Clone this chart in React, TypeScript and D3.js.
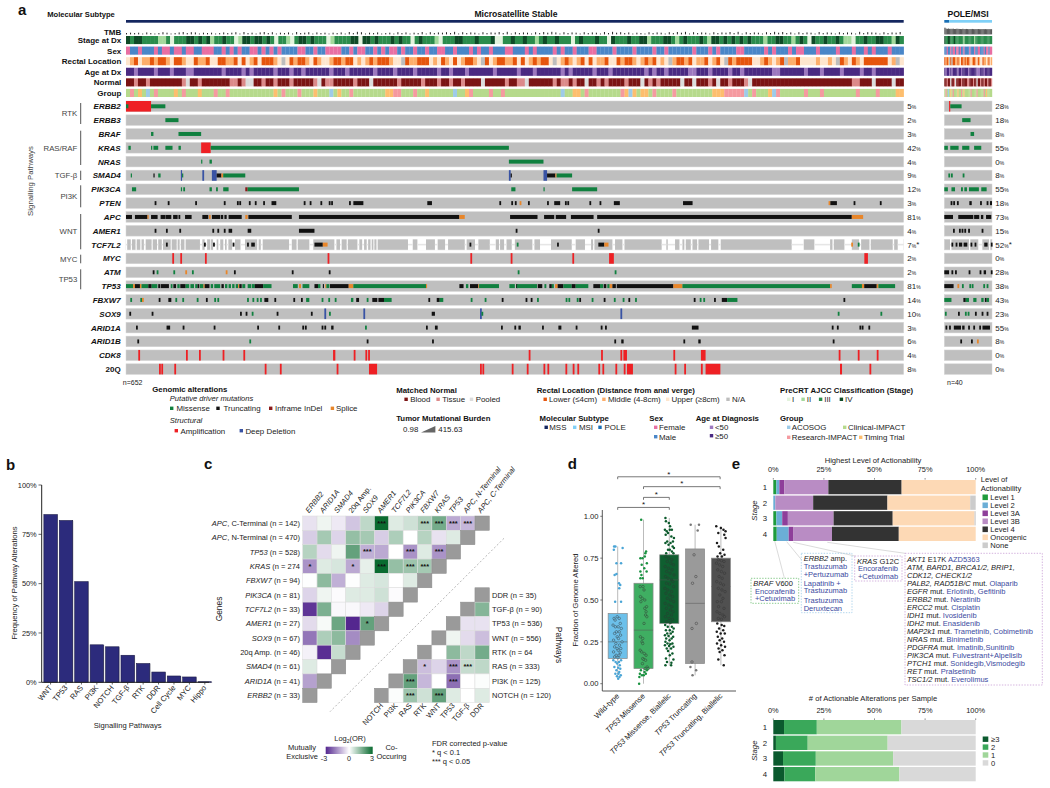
// App.tsx - multi panel genomic landscape figure
import React from 'react';
import * as d3 from 'd3';

type Alt = [string, number, number?];

const FONT = '"Liberation Sans", Arial, sans-serif';

// ---- panel a: samples and tracks ----
const mssCount = 652;
const poleCount = 40;

const stageMSS =
  '4344333322313334434342334331244344343133213443433312333344144343' +
  '33434331343332133344333433341133433433234334333134333433143334334' +
  '42333443234333432443434343433323344332343143343343221334334433243';
const sexMSS =
  'FMMFMMMFMFFMFFMFFMMFFFMMFMFMFMMFFMFMFMFMMMMFFMMFMMFFFFMMFMFFMMFMF' +
  'MFFMFMMFMMFMMFFMMFMMMFMFMMFMMMFFMMMFMFMMMMFMFMMFMMMFFMMMMFMMMMFMM' +
  'MMFMMFMMMMMMFMMMFMFMMMMFFMMMMMFMFMMMFMFFMMMFMMMMFMMMFMMFMFMMMFMMM';
const rectalMSS =
  'UMLUMMLMLLMULLMUULMMLUULLMMLULUMLULLLMUNULMLLMULMUUMLLMLLUMUMLMLL' +
  'LMUUNLMMLLLUMULMULUMLLMUNLUMLLMMLULUMLMLLUNUMLMUMLULUMMLUULMLLMUM' +
  'LMLUMUNMLLMLUMMLUMLUNLMLLLLUUMLMUMLNMMLUUUUMUUMUNLMULMULLLLLLUMNU';
const ageMSS =
  'OOYOOOOYOOOYOOOYYOOOOOOOYOOOOYOYOOOOOYOOOYOOYOOOOOOYOOOYOOOOOOYOO' +
  'OOYOOOOYOOOOOYOOYOOOYOOOOOOYOOOOOYOOOYOOOOOOYOYOOOOOYOOOYOOOOOOOO' +
  'YOYOOYOOOOOYYOOOYOOOOYOOYOOOOOOOYYOOOOOOYOOOYOOOOYOOOOYOOYOOOOOOO';
const normalMSS =
  'BBTBBTBBBBBBBBTPBBTBBBBBBBTTBTPPBBTBBTBBBTBBBBBTPBTTBBBBBTBBBPBBB' +
  'BBBTBBBBBTBBBTBBTBBTBBBBPBBBBBTBBTTPBBBBBBTBTTBTBBPBBTBTBBBBTBBBP' +
  'BTBTBBBBBPBBPBBBTBPBBTBBBTPBBBBBBBBBBBBBBBBBBBBBBBBBTTBBBPBBBBPBB';
const groupMSS =
  'CRCICACRCCCCICRCCCICCCRCCRCCCCCCCCCCCICRCCCRCCCICCCACICCRCCCCCCCC' +
  'IIRRCCCRCCICCCCCCACCIRCCCCRCCRCCCCCCCCCCCCCCACCIICRCCCCCCCCRIAICI' +
  'ICRCCCCRCCCCCCCCCIIIRRRRRACRCCCIARCCCCCCRCCCRCCCCCCCCRCCCCRCCCCII';
const tmbMSS = (
  '3434253236423573652434235346273425736243527346253424352738624352' +
  '3426352437263546382635426354738263542637485263542635427384635243' +
  '2635426374826354263547382635426384735263542735426354283654263547'
).split('').map(Number);

const stagePOLE = '4334433343333333233333333233333333333333';
const sexPOLE = 'MMFMMFMFFMFFMFMMFMMMMFMMMFMMFFMMMFMFFMFF';
const rectalPOLE = 'LMLMNLNLLMMLMULLMLMLLMUMLLMULMUULMMUMLUM';
const agePOLE = 'OYOOYOYOOOOYOOYOOOOOYOOOOOOYYYOOOYOOOOOO';
const normalPOLE = 'BBTBBPBBTPBBBBTBBBBTTBBBTBBPBBTBBTBBTBBT';
const groupPOLE = 'CRCACICRCCCICCRCICCCCCRCCCCRCCCCCRCICCCC';
const tmbPOLE = [240, 110, 90, 120, 85, 95, 90, 105, 80, 85, 100, 90, 85, 80, 75, 95, 80, 75, 85, 78, 70, 80, 75, 85, 75, 70, 78, 75, 80, 72, 70, 75, 78, 70, 75, 68, 70, 72, 68, 70];

const stageColors: Record<string, string> = { '1': '#e3f3dd', '2': '#a4d99c', '3': '#2b8c4c', '4': '#0e4a27' };
const sexColors: Record<string, string> = { F: '#e86fa3', M: '#4a86c8' };
const rectalColors: Record<string, string> = { L: '#e6550d', M: '#fdae6b', U: '#fee6ce', N: '#bdbdbd' };
const ageColors: Record<string, string> = { Y: '#9c78bf', O: '#4a2a82' };
const normalColors: Record<string, string> = { B: '#7b1414', T: '#dc8a8a', P: '#dcdcdc' };
const groupColors: Record<string, string> = { C: '#b6da8c', A: '#9ecbe8', R: '#f59aa0', I: '#fdbe6e' };

const annotationRows = ['Stage at Dx', 'Sex', 'Rectal Location', 'Age at Dx', 'Normal', 'Group'];
const annotationMSS = [stageMSS, sexMSS, rectalMSS, ageMSS, normalMSS, groupMSS];
const annotationPOLE = [stagePOLE, sexPOLE, rectalPOLE, agePOLE, normalPOLE, groupPOLE];
const annotationColors = [stageColors, sexColors, rectalColors, ageColors, normalColors, groupColors];

const genes = ['ERBB2', 'ERBB3', 'BRAF', 'KRAS', 'NRAS', 'SMAD4', 'PIK3CA', 'PTEN', 'APC', 'AMER1', 'TCF7L2', 'MYC', 'ATM', 'TP53', 'FBXW7', 'SOX9', 'ARID1A', 'ARID1B', 'CDK8', '20Q'];
const pctMSS = ['5', '2', '3', '42', '4', '9', '12', '3', '81', '4', '7', '2', '2', '81', '14', '10', '3', '6', '4', '8'];
const pctPOLE = ['28', '18', '8', '55', '0', '8', '55', '18', '73', '15', '52', '0', '28', '38', '43', '23', '55', '8', '0', '0'];

// alteration runs in sample order: kind, first sample, last sample
const altMSS: Alt[][] = [
  [['A', 0, 21], ['M', 0, 2], ['M', 21, 33]],
  [['M', 33, 44]],
  [['M', 21, 23], ['M', 44, 63]],
  [['M', 2, 4], ['M', 21, 22], ['M', 23, 27], ['M', 33, 39], ['M', 44, 46], ['A', 63, 71], ['M', 71, 321]],
  [['M', 63, 64], ['M', 70, 72], ['M', 321, 350]],
  [['M', 4, 5], ['T', 23, 24], ['M', 27, 29], ['D', 46, 47], ['M', 47, 48], ['D', 64, 65.5], ['D', 72, 76], ['T', 76, 80], ['S', 80, 81.5], ['M', 81.5, 100], ['D', 321, 322.5], ['T', 322.5, 323.5], ['D', 350, 353], ['T', 353, 360], ['S', 360, 361], ['M', 361, 374]],
  [['M', 5, 8.5], ['M', 46, 47], ['M', 48, 49.5], ['M', 70, 72], ['M', 75.5, 77], ['M', 81.5, 86], ['I', 100, 102], ['M', 102, 145], ['M', 323, 326.5], ['M', 350, 351], ['M', 374, 395]],
  [['T', 24], ['T', 35], ['T', 58], ['T', 82], ['T', 93], ['T', 95], ['T', 103], ['T', 108], ['T', 115], ['T', 122, 126], ['T', 149], ['T', 154], ['T', 163], ['T', 170], ['T', 172], ['T', 187], ['T', 190.6, 199], ['T', 252.6, 256.5], ['T', 313], ['T', 323], ['T', 326], ['S', 330], ['T', 337], ['T', 353], ['T', 359, 364], ['T', 368], ['T', 370], ['T', 388.5], ['T', 397], ['T', 409, 414], ['T', 467, 475], ['S', 589], ['T', 590.5, 596], ['T', 610], ['T', 632]],
  [['T', 0, 5], ['T', 7.5, 18], ['S', 18, 19], ['T', 21, 26.5], ['T', 29, 32.7], ['T', 33, 38], ['T', 39.5, 43.3], ['T', 44, 45.5], ['T', 49.5, 55], ['T', 64, 69], ['S', 69.6, 71], ['T', 72, 79], ['T', 79.5, 81.5], ['T', 82.5, 84.4], ['T', 86, 97], ['S', 100, 102], ['T', 102.6, 139], ['T', 145, 279.5], ['S', 279.5, 284], ['T', 322, 345], ['T', 350.5, 359], ['T', 360.3, 369], ['T', 373, 392], ['T', 395, 608.5], ['S', 608.5, 618]],
  [['T', 24], ['T', 33.5], ['T', 44.7], ['T', 72.4], ['T', 76.6], ['T', 82], ['T', 86, 89], ['T', 102, 105], ['T', 145, 158], ['T', 326.7], ['T', 395.5]],
  [['T', 33.5], ['T', 65.4], ['T', 73], ['T', 89.4], ['T', 101.5], ['T', 105, 108], ['T', 158, 165], ['S', 165, 169], ['T', 288], ['M', 327.6], ['T', 361.4], ['T', 396, 401], ['S', 401, 404.5], ['S', 608], ['M', 613.5]],
  [['A', 38.8], ['A', 45.5], ['A', 66.2], ['A', 169], ['A', 288.7], ['A', 322.5], ['A', 374.2], ['A', 405, 409], ['A', 619, 622]],
  [['T', 22.4], ['M', 25.7], ['M', 39.7], ['S', 49.7], ['M', 55.3], ['S', 83.6], ['T', 90.5], ['T', 139], ['T', 170], ['M', 328.4], ['M', 409.7]],
  [['M', 0, 6], ['S', 6, 7.5], ['T', 7.5, 11.7], ['S', 11.7, 13], ['M', 13, 18.7], ['T', 18.7, 21.5], ['M', 21.5, 26.3], ['T', 27, 28.5], ['T', 29, 36], ['M', 37.5, 39], ['T', 39.7, 42], ['M', 43, 45], ['T', 45.5, 50], ['M', 50, 53], ['M', 54, 57], ['M', 58, 60], ['T', 60, 61.5], ['M', 62, 65], ['S', 65, 66], ['T', 66, 70], ['M', 71, 73], ['M', 74, 79], ['T', 80, 82], ['M', 83, 85], ['M', 86, 88], ['M', 89, 91], ['M', 92, 94], ['S', 94, 95], ['T', 95, 97], ['M', 97.5, 100], ['M', 102, 105], ['M', 105.5, 108], ['T', 108, 115], ['M', 115, 122], ['M', 140, 144], ['S', 145, 146.7], ['M', 148, 153.7], ['T', 158, 161], ['M', 161, 163], ['T', 165, 166], ['S', 167, 168], ['M', 168, 170.5], ['T', 171, 186.7], ['S', 186.7, 190.6], ['M', 190.6, 251.5], ['S', 251.5, 252.4], ['T', 279.5, 283], ['M', 285, 287], ['T', 288.4, 295.4], ['S', 295.4, 296], ['M', 296, 312.7], ['M', 321.4, 326], ['T', 327], ['M', 327.6, 344.6], ['T', 345.2, 349], ['M', 350.8, 352.4], ['T', 354.9, 357], ['M', 357, 358.7], ['S', 359.7, 361.9], ['T', 361.9, 366.7], ['M', 366.7, 373.7], ['T', 373.7, 377], ['M', 377, 387.6], ['T', 391.8, 397.4], ['M', 397.4, 400], ['T', 400.5, 402.7], ['M', 403.5, 405.5], ['S', 405.5, 407.8], ['T', 407.8, 410.7], ['T', 411.4, 458.9], ['S', 458.9, 466.5], ['M', 466.5, 590.3], ['S', 590.3, 591.7], ['M', 608.5, 617], ['S', 617, 618.9], ['T', 618.9, 629.4], ['S', 629.4, 630.8], ['M', 630.8, 644.8]],
  [['M', 3.6], ['M', 12], ['S', 13.4], ['T', 27.4], ['T', 35.5, 38], ['M', 41.4], ['M', 47.2], ['M', 59.3], ['T', 67], ['M', 74], ['M', 76.6], ['M', 101.5], ['M', 106], ['M', 109.6], ['M', 112.4], ['T', 116, 119.3], ['T', 124.4], ['T', 140.3], ['T', 146.7], ['M', 151, 153.7], ['M', 164], ['M', 169.6], ['M', 175], ['M', 188.6, 190.6], ['T', 193, 195.4], ['M', 201.8], ['T', 206.5, 210.7], ['T', 211.6, 216.3], ['M', 216.3, 222.7], ['T', 253.5], ['T', 260.5, 263], ['M', 263, 266], ['M', 289], ['M', 300.7], ['T', 315], ['T', 335], ['T', 339.3], ['M', 344.6], ['M', 368.6], ['M', 370.9], ['M', 377.9], ['T', 380], ['M', 390.4], ['T', 400.5], ['M', 409], ['M', 416.4], ['T', 421.2], ['M', 426.8], ['T', 476], ['M', 481], ['M', 484], ['T', 493], ['T', 499.5, 504], ['M', 504, 512.6], ['T', 601.5]],
  [['T', 2.8], ['T', 21.5], ['T', 95.6], ['T', 100.3], ['M', 105.4], ['T', 126.3], ['T', 155], ['D', 166.3], ['M', 170.2], ['D', 199], ['T', 256.3, 259], ['D', 296.8], ['M', 298], ['D', 414.5], ['M', 596.7], ['M', 632.5]],
  [['T', 8.4], ['T', 34, 37], ['T', 47.5], ['T', 73.5], ['T', 110], ['T', 127.7], ['T', 147.8], ['T', 150], ['T', 164], ['T', 166.3], ['T', 172, 174], ['M', 200.4], ['T', 251.5], ['T', 259, 261.3], ['T', 314.4], ['T', 325.6], ['T', 329, 331], ['T', 348.8], ['T', 362.5, 365], ['T', 377], ['T', 398], ['T', 401.6], ['T', 474.4, 480], ['T', 591.7], ['T', 596], ['T', 614.9], ['T', 616.8], ['T', 622.4]],
  [['T', 9.5], ['M', 103.4], ['T', 201.8], ['T', 256.6], ['T', 409.4], ['T', 415.2, 417.2], ['T', 467.3], ['T', 479.8, 481.8], ['T', 592.5]],
  [['A', 10.3], ['A', 50.3], ['A', 61.2], ['A', 81], ['A', 98.4], ['A', 173.6, 175.5], ['A', 190.9], ['A', 200.7], ['A', 203], ['A', 337.6], ['A', 398.3], ['A', 414.5], ['A', 417, 420], ['A', 458.9], ['A', 482, 485.9], ['A', 597.5], ['A', 613.5], ['A', 629.4]],
  [['A', 27.7], ['A', 29.6], ['A', 40.5], ['A', 116.3], ['A', 129], ['A', 176.6], ['A', 203.7, 210.5], ['A', 296.8], ['A', 298.8], ['A', 323.4], ['A', 336], ['A', 350], ['A', 353.3], ['A', 368.4], ['A', 374.5], ['A', 378.4], ['A', 396], ['A', 399.4], ['A', 410.3], ['A', 417.3], ['A', 420, 425], ['A', 460], ['A', 468], ['A', 482], ['A', 485.9, 498.3], ['A', 598.6, 600.3], ['A', 623.3]],
];
const altPOLE: Alt[][] = [
  [['A', 4, 5], ['M', 5, 14.5]],
  [['M', 15, 22]],
  [['M', 22, 25]],
  [['M', 0, 3], ['M', 5, 12], ['M', 15, 21], ['M', 25, 31]],
  [],
  [['M', 3.4], ['M', 5.6], ['M', 15.4]],
  [['M', 0, 3], ['M', 6, 9], ['M', 14, 15.6], ['M', 16.8, 19], ['M', 20.7, 29], ['M', 31, 35.5]],
  [['T', 5.3], ['T', 7.5], ['T', 10.6], ['T', 21, 23], ['T', 30], ['T', 35.5], ['T', 38.3, 40]],
  [['T', 0, 7.3], ['T', 11.7, 24.3], ['T', 25, 29.3], ['T', 30.7, 32.7], ['T', 35, 39.4]],
  [['T', 7.3], ['T', 12.3], ['T', 14.5], ['T', 16.8], ['T', 20], ['T', 31.3]],
  [['T', 6, 7.5], ['T', 9.5, 11], ['T', 12.3, 15], ['T', 16.2, 19.3], ['T', 22, 23.5], ['T', 25.4], ['T', 33.5, 36.3], ['T', 39]],
  [],
  [['T', 0, 4], ['T', 6, 7.5], ['T', 9], ['T', 20.4], ['T', 29.6], ['T', 33, 35], ['T', 39]],
  [['T', 0, 7.8], ['S', 11], ['M', 14.8], ['M', 21], ['M', 23], ['M', 32.7], ['M', 35.5]],
  [['M', 0, 6], ['T', 16, 18], ['M', 18, 20.7], ['M', 24.3, 27], ['M', 31, 33], ['T', 34], ['M', 35.5, 37.5]],
  [['M', 0.5], ['T', 11.5], ['M', 17.3], ['M', 19.6], ['T', 25.7], ['T', 31.3], ['T', 35.5]],
  [['T', 1], ['T', 4], ['T', 8, 14], ['T', 15, 17], ['T', 20], ['T', 24.3], ['T', 29.3], ['T', 32, 38.3]],
  [['T', 13.4], ['T', 22.4], ['S', 27.4]],
  [],
  [],
];
// samples without TCF7L2 coverage
const tcfGapsMSS = [[0, 1], [4, 5], [8, 9], [12, 13], [15, 16.5], [21.5, 22.4], [26, 27], [30, 31], [37.5, 38.3], [42.5, 43.3], [45, 46], [49, 50], [62, 64], [66, 68], [70.4, 71], [73, 76], [77.4, 79], [81.6, 83], [84.4, 85.8], [89, 91.4], [96, 99.8], [110, 111.2], [113, 114.6], [136.7, 139], [143, 144], [153.7, 157], [174.7, 176.4], [179.4, 180.8], [185, 186], [194, 195.6], [198, 199.6], [201.8, 203], [205, 206], [207.4, 208.2], [210, 211], [236.4, 240.4], [244.3, 251.5], [259, 261.3], [267.5, 270], [284, 285.6], [292.6, 295.4], [305, 310], [312.7, 313.6], [317, 319], [323.4, 326], [340.7, 342.4], [347.1, 356.3], [373.7, 377], [384.8, 389.9], [391.6, 392.7], [407.8, 410], [416.2, 417.9], [449.1, 453], [454.2, 460.3], [464, 466.5], [468.1, 469.3], [473.5, 474.9], [478.8, 479.9], [488.8, 490.5], [496.6, 498.6], [558.1, 568.2], [577.1, 590.3], [592.3, 593.4], [602.3, 608.5], [614.6, 616.3], [623.3, 624.4], [642.8, 644], [647, 652]];
const tcfGapsPOLE = [[4.8, 6], [20.7, 21.8], [28.5, 31.9], [37.5, 38.6]];

const altColors: Record<string, string> = { M: '#10803f', T: '#111111', I: '#8b1a1a', S: '#e8862a', A: '#ee2024', D: '#3953a4' };

const pathwayGroups = [
  { name: 'RTK', from: 103, to: 124 },
  { name: 'RAS/RAF', from: 130.7, to: 165 },
  { name: 'TGF-β', from: 170.7, to: 180 },
  { name: 'PI3K', from: 185.3, to: 207.3 },
  { name: 'WNT', from: 214, to: 249.3 },
  { name: 'MYC', from: 254.7, to: 263.3 },
  { name: 'TP53', from: 269.3, to: 289.3 },
];

// ---- panel b ----
const pathwayNames = ['WNT', 'TP53', 'RAS', 'PI3K', 'NOTCH', 'TGF-β', 'RTK', 'DDR', 'Cell Cycle', 'MYC', 'Hippo'];
const pathwayFreq = [85, 82, 51, 19, 18, 13.7, 9.5, 5.2, 3.2, 2.7, 0.3];

// ---- panel c ----
const geneRows = ['APC, C-Terminal (n = 142)', 'APC, N-Terminal (n = 470)', 'TP53 (n = 528)', 'KRAS (n = 274', 'FBXW7 (n = 94)', 'PIK3CA (n = 81)', 'TCF7L2 (n = 33)', 'AMER1 (n = 27)', 'SOX9 (n = 67)', '20q Amp. (n = 46)', 'SMAD4 (n = 61)', 'ARID1A (n = 41)', 'ERBB2 (n = 33)'];
const geneCols = ['ERBB2', 'ARID1A', 'SMAD4', '20q Amp.', 'SOX9', 'AMER1', 'TCF7L2', 'PIK3CA', 'FBXW7', 'KRAS', 'TP53', 'APC, N-Terminal', 'APC, C-Terminal'];
const geneOR = [
  [-0.4, 0.2, -0.3, -0.8, 0.8, 3, 0.4, 0.6, 1, 1.7, -1.2, -1],
  [-0.7, 1.1, -0.6, 1.3, 1.1, -0.7, 1, 0, 0.9, -0.4, 0.4],
  [0.9, -0.5, 0.2, 1.9, -1.1, -1.2, 0, -1.5, 0.4, -1.5],
  [-1.5, 0.4, 0.5, -1.2, 0.3, 3, 1.3, 1.2, 1.1],
  [0.02, 1.4, -1.1, 0.02, 0.4, 0.5, 0, 0.4],
  [-0.6, 0.2, -0.05, 0.4, 0.4, 0.6, -0.05],
  [-2.8, 1.6, -0.1, -0.1, -0.3, -0.6],
  [-0.5, 0.1, 1.8, -3, 1.9],
  [-1.9, 1, 1.4, -1.6],
  [-0.2, -2.9, 0.7],
  [0.4, 0],
  [-1.3],
  [],
];
const geneStars = [
  ['', '', '', '', '', '***', '', '', '***', '***', '***', '***'],
  [],
  ['', '', '', '', '***', '', '', '***', '', '***'],
  ['*', '', '', '*', '', '***', '', '***', '***'],
  [], [], [],
  ['', '', '', '', '*'],
];
const pathRows = ['DDR (n = 35)', 'TGF-β (n = 90)', 'TP53 (n = 536)', 'WNT (n = 556)', 'RTK (n = 64', 'RAS (n = 333)', 'PI3K (n = 125)', 'NOTCH (n = 120)'];
const pathCols = ['NOTCH', 'PI3K', 'RAS', 'RTK', 'WNT', 'TP53', 'TGF-β', 'DDR'];
// read right to left from the grey diagonal
const pathOR = [
  [],
  [1.5],
  [-0.4, -0.4],
  [0.2, -0.5, -0.9],
  [0, 1.4, 0.8, 1.7],
  [-0.9, -0.6, -1.5, 0.7, 0.8],
  [1.9, -1, 0, -2, 0, 0.05],
  [0.05, 1.2, 0.6, 1.9, 0.4, 0, 0.4],
];
const pathStars = [
  [], [], [], [], [],
  ['*', '', '***', '***', ''],
  ['***', '', '', '***', '', ''],
  ['', '***', '', '***', '', '', ''],
];

// ---- panel d ----
const fgaGroups = ['Wild-type', 'TP53 Missense', 'TP53 Missense, Biallelic', 'TP53 Truncating', 'TP53 Truncating, Biallelic'];
const fgaBoxes = [
  { lo: 0.03, q1: 0.15, med: 0.25, q3: 0.42, hi: 0.82 },
  { lo: 0, q1: 0.09, med: 0.32, q3: 0.6, hi: 0.98 },
  { lo: 0.11, q1: 0.36, med: 0.62, q3: 0.77, hi: 0.99 },
  { lo: 0.05, q1: 0.12, med: 0.48, q3: 0.805, hi: 0.95 },
  { lo: 0.11, q1: 0.37, med: 0.58, q3: 0.75, hi: 0.94 },
];
const fgaFill = ['#6cc0ea', '#3fae62', '#0f5f30', '#9a9a9a', '#505050'];
const fgaDot = ['#4aa5d6', '#18913f', '#0c5a2c', '#777777', '#1c1c1c'];
// [jitter as part of a category step, fraction of genome altered]
const fgaWild = [[-0.14, 0.82], [-0.09, 0.82], [-0.15, 0.8], [0.19, 0.81], [-0.05, 0.72], [0.13, 0.72], [-0.12, 0.65], [-0.05, 0.655], [0.05, 0.6], [0.1, 0.59], [0.06, 0.57], [-0.1, 0.49], [0.13, 0.49], [-0.14, 0.39], [-0.1, 0.38], [-0.02, 0.4], [0.06, 0.39], [0.1, 0.36], [-0.18, 0.35], [-0.09, 0.34], [0.02, 0.34], [0.14, 0.33], [-0.05, 0.31], [0.06, 0.31], [-0.12, 0.3], [0.11, 0.29], [-0.02, 0.28], [0.03, 0.27], [-0.16, 0.26], [0.17, 0.25], [-0.07, 0.24], [0.07, 0.23], [-0.12, 0.22], [-0.02, 0.21], [0.12, 0.21], [0.02, 0.2], [-0.16, 0.19], [0.1, 0.185], [-0.06, 0.17], [0.05, 0.17], [-0.12, 0.16], [0.01, 0.155], [-0.17, 0.14], [0.13, 0.14], [-0.08, 0.13], [0.05, 0.13], [-0.02, 0.12], [0.08, 0.11], [-0.13, 0.1], [0.02, 0.095], [0.1, 0.09], [-0.05, 0.08], [0.06, 0.07], [-0.09, 0.06], [0.03, 0.06], [0.12, 0.05], [-0.03, 0.045], [0.07, 0.04], [0.02, 0.03]];
const fgaMissense = [[-0.09, 0.98], [0.1, 0.79], [0.07, 0.78], [0.05, 0.76], [-0.12, 0.75], [-0.04, 0.75], [0.13, 0.72], [-0.07, 0.71], [0.03, 0.69], [0.12, 0.67], [-0.12, 0.67], [-0.08, 0.65], [-0.12, 0.63], [-0.03, 0.63], [-0.13, 0.58], [-0.02, 0.58], [0.02, 0.56], [-0.12, 0.52], [-0.05, 0.51], [0.05, 0.5], [-0.1, 0.49], [0.12, 0.46], [0.05, 0.45], [0.1, 0.43], [0.08, 0.41], [0.13, 0.4], [0.02, 0.36], [-0.12, 0.28], [-0.03, 0.27], [-0.06, 0.25], [-0.03, 0.24], [-0.13, 0.2], [-0.07, 0.19], [0.03, 0.18], [0.1, 0.17], [-0.03, 0.15], [0.02, 0.145], [0.08, 0.14], [-0.04, 0.12], [0.14, 0.1], [0.18, 0.09], [0.06, 0.09], [-0.1, 0.08], [0.13, 0.08], [0.04, 0.07], [-0.14, 0.06], [-0.06, 0.05], [0.01, 0.05], [0.09, 0.06], [-0.16, 0.04], [-0.17, 0]];
const fgaMissenseBi = [[-0.15, 0.99], [-0.13, 0.97], [-0.02, 0.96], [0.03, 0.94], [-0.17, 0.92], [-0.1, 0.91], [0.02, 0.92], [0.1, 0.92], [-0.14, 0.89], [-0.05, 0.9], [0.08, 0.88], [0.18, 0.87], [-0.08, 0.85], [0.14, 0.85], [-0.15, 0.84], [-0.03, 0.83], [0.05, 0.84], [0.13, 0.82], [0.18, 0.81], [-0.05, 0.8], [0.02, 0.8], [0.1, 0.79], [-0.12, 0.78], [0.16, 0.78], [-0.14, 0.76], [-0.02, 0.75], [0.1, 0.74], [-0.08, 0.73], [0.06, 0.72], [0.16, 0.71], [-0.16, 0.7], [-0.03, 0.69], [0.11, 0.68], [-0.1, 0.67], [0.03, 0.66], [0.18, 0.65], [-0.15, 0.64], [-0.05, 0.63], [0.08, 0.62], [0.14, 0.61], [-0.11, 0.6], [0.01, 0.595], [0.17, 0.58], [-0.17, 0.57], [-0.06, 0.56], [0.09, 0.55], [-0.13, 0.54], [0.02, 0.53], [0.13, 0.52], [-0.08, 0.51], [0.05, 0.5], [0.17, 0.49], [-0.16, 0.48], [-0.02, 0.47], [0.1, 0.46], [-0.11, 0.45], [0.04, 0.44], [0.15, 0.43], [-0.07, 0.42], [0.08, 0.41], [-0.15, 0.4], [-0.01, 0.39], [0.12, 0.385], [-0.1, 0.37], [0.04, 0.365], [-0.16, 0.35], [-0.06, 0.34], [0.1, 0.34], [0.17, 0.33], [-0.13, 0.32], [0.02, 0.32], [0.13, 0.31], [-0.08, 0.3], [0.06, 0.3], [-0.17, 0.29], [-0.03, 0.285], [0.15, 0.28], [-0.12, 0.27], [0.09, 0.27], [0.01, 0.26], [-0.15, 0.25], [-0.07, 0.24], [0.12, 0.24], [0.04, 0.235], [-0.17, 0.23], [-0.01, 0.225], [0.16, 0.22], [-0.1, 0.21], [0.07, 0.21], [-0.05, 0.195], [0.12, 0.18], [0.02, 0.17], [-0.13, 0.15], [0.16, 0.145], [-0.09, 0.13], [0.08, 0.125], [-0.15, 0.11], [0.07, 0.11]];
const fgaTrunc = [[-0.17, 0.95], [0.15, 0.95], [0.1, 0.915], [-0.04, 0.77], [0.03, 0.64], [-0.1, 0.6], [0.05, 0.36], [-0.12, 0.33], [-0.12, 0.13], [-0.18, 0.1], [0.04, 0.08], [-0.1, 0.05]];
const fgaTruncBi = [[-0.18, 0.94], [0, 0.93], [0.1, 0.92], [0.18, 0.91], [-0.1, 0.9], [0.13, 0.89], [0.18, 0.87], [-0.15, 0.84], [-0.08, 0.82], [0.09, 0.8], [-0.03, 0.78], [0.14, 0.77], [-0.13, 0.76], [0.04, 0.76], [-0.1, 0.74], [0.02, 0.735], [0.12, 0.73], [-0.17, 0.72], [-0.05, 0.71], [0.07, 0.7], [-0.12, 0.68], [0.02, 0.67], [0.14, 0.66], [-0.07, 0.64], [0.05, 0.63], [-0.16, 0.61], [-0.02, 0.6], [0.1, 0.59], [-0.1, 0.57], [0.04, 0.56], [0.16, 0.55], [-0.04, 0.53], [0.08, 0.51], [-0.14, 0.49], [0.02, 0.49], [-0.09, 0.46], [0.12, 0.45], [-0.15, 0.43], [-0.04, 0.42], [0.08, 0.41], [0.14, 0.4], [-0.1, 0.39], [0.02, 0.385], [-0.14, 0.36], [0.03, 0.35], [0.13, 0.345], [-0.07, 0.33], [0.09, 0.32], [-0.16, 0.31], [-0.01, 0.3], [0.15, 0.3], [-0.12, 0.28], [0.05, 0.27], [-0.05, 0.26], [0.12, 0.25], [-0.15, 0.24], [0.01, 0.23], [0.16, 0.22], [-0.09, 0.21], [0.06, 0.2], [-0.05, 0.19], [0.14, 0.17], [-0.1, 0.145], [0.11, 0.11]];
const fgaPoints = [fgaWild, fgaMissense, fgaMissenseBi, fgaTrunc, fgaTruncBi];
// bracket: from group, to group, height on the value axis
const fgaBrackets = [[0, 3.97, 1.236], [1, 3.97, 1.177], [1, 2, 1.113], [0, 2, 1.053]];

// ---- panel e ----
const stages = ['1', '2', '3', '4'];
const levelNames = ['Level 1', 'Level 2', 'Level 3A', 'Level 3B', 'Level 4', 'Oncogenic', 'None'];
const levelColors = ['#1f9c3c', '#6baed6', '#8e3f9a', '#b98cc4', '#333333', '#fdd9b5', '#cccccc'];
const level1 = [1.5, 0, 1.5, 1.7];
const level2 = [1.5, 1, 2.9, 5.9];
const level3A = [2.5, 0, 2.8, 2.4];
const level3B = [21.7, 18.7, 22.6, 19];
const level4 = [36.2, 36.7, 29.2, 33];
const levelOnco = [36.6, 40.9, 40.4, 38];
const levelNone = [0, 2.7, 0.6, 0];
const countNames = ['≥3', '2', '1', '0'];
const countColors = ['#0b5a2e', '#3aa85a', '#a0d69a', '#d9d9d9'];
const countGe3 = [5.3, 1.3, 4.8, 5.5];
const count2 = [16.2, 15.7, 16.2, 15.2];
const count1 = [41.8, 39.5, 38.2, 41.6];
const count0 = [36.7, 43.5, 40.8, 37.7];
const pctTicks = [0, 25, 50, 75, 100];

// i = italic gene, n = plain, d = drug
const tierLines: [string, string][][] = [
  [['AKT1', 'i'], [' E17K ', 'n'], ['AZD5363', 'd']],
  [['ATM, BARD1, BRCA1/2, BRIP1,', 'i']],
  [['CDK12, CHECK1/2', 'i']],
  [['PALB2, RAD51B/C', 'i'], [' mut. ', 'n'], ['Olaparib', 'd']],
  [['EGFR', 'i'], [' mut. ', 'n'], ['Erlotinib, Gefitinib', 'd']],
  [['ERBB2', 'i'], [' mut. ', 'n'], ['Neratinib', 'd']],
  [['ERCC2', 'i'], [' mut. ', 'n'], ['Cisplatin', 'd']],
  [['IDH1', 'i'], [' mut. ', 'n'], ['Ivosidenib', 'd']],
  [['IDH2', 'i'], [' mut. ', 'n'], ['Enasidenib', 'd']],
  [['MAP2k1', 'i'], [' mut. ', 'n'], ['Trametinib, Cobimetinib', 'd']],
  [['NRAS', 'i'], [' mut. ', 'n'], ['Binimetinib', 'd']],
  [['PDGFRA', 'i'], [' mut. ', 'n'], ['Imatinib,Sunitinib', 'd']],
  [['PIK3CA', 'i'], [' mut. ', 'n'], ['Fulvestrant+Alpelisib', 'd']],
  [['PTCH1', 'i'], [' mut. ', 'n'], ['Sonidegib,Vismodegib', 'd']],
  [['RET', 'i'], [' mut. ', 'n'], ['Pralsetinib', 'd']],
  [['TSC1/2', 'i'], [' mut. ', 'n'], ['Everolimus', 'd']],
];

const DRUG = '#3b4aa0';
const INK = '#222222';

function T({ x, y, size = 7.8, anchor = 'start', weight = 'normal', italic = false, fill = INK, rotate, children }: any) {
  return (
    <text
      x={x}
      y={y}
      fontSize={size}
      fontFamily={FONT}
      textAnchor={anchor}
      fontWeight={weight}
      fontStyle={italic ? 'italic' : 'normal'}
      fill={fill}
      transform={rotate !== undefined ? `rotate(${rotate} ${x} ${y})` : undefined}
    >
      {children}
    </text>
  );
}

function Swatch({ x, y, fill, size = 3.4 }: any) {
  return <rect x={x} y={y - size / 2} width={size} height={size} fill={fill} />;
}

function Panel({ x0, x1, count, annotations, tmb, tmbFill, alts, gaps, pcts, pctX, isMain }: any) {
  const x = d3.scaleLinear().domain([0, count]).range([x0, x1]);
  const rows = d3.scaleBand<string>().domain(genes).range([101, 374.4]).paddingInner(0.233).paddingOuter(0);
  const tracks = d3.scaleBand<string>().domain(annotationRows).range([36, 97]).paddingInner(0.235).paddingOuter(0);
  const tmbY = d3.scaleLog().domain([0.98, 415.63]).range([34.4, 27]);
  const tmbX = d3.scaleBand<number>().domain(d3.range(tmb.length)).range([x0, x1]);
  const rowH = rows.bandwidth();
  const tcfY = rows('TCF7L2') as number;

  return (
    <g>
      {tmb.map((v: number, i: number) => (
        <rect key={i} x={tmbX(i)} y={tmbY(v)} width={isMain ? 1 : tmbX.bandwidth() + 0.1} height={34.4 - tmbY(v)} fill={tmbFill} />
      ))}
      {annotations.map((s: string, t: number) => {
        const cell = d3.scaleBand<number>().domain(d3.range(s.length)).range([x0, x1]);
        return Array.from(s).map((c, i) => (
          <rect key={`${t}-${i}`} x={cell(i)} y={tracks(annotationRows[t])} width={cell.bandwidth() + 0.2} height={tracks.bandwidth()} fill={annotationColors[t][c]} />
        ));
      })}
      {genes.map((g) => (
        <rect key={g} x={x0} y={rows(g)} width={x1 - x0} height={rowH} fill="#bfbfbf" stroke="#d6d6d6" strokeWidth={0.5} />
      ))}
      {gaps.map((d: number[], i: number) => (
        <g key={i}>
          <rect x={x(d[0])} y={tcfY - 0.5} width={x(d[1]) - x(d[0])} height={rowH + 1} fill="#ffffff" />
          <rect x={x(d[0])} y={tcfY + rowH / 2 - 0.8} width={x(d[1]) - x(d[0])} height={1.6} fill="#e6e6e6" />
        </g>
      ))}
      {alts.map((list: Alt[], r: number) =>
        [...list]
          .sort((a, b) => (a[0] === 'A' || a[0] === 'D' ? -1 : 0) - (b[0] === 'A' || b[0] === 'D' ? -1 : 0))
          .map((d, i) => {
            const full = d[0] === 'A' || d[0] === 'D';
            const end = d[2] ?? d[1] + 1.5;
            const y0 = rows(genes[r]) as number;
            return (
              <rect
                key={`${r}-${i}`}
                x={x(d[1])}
                y={full ? y0 : y0 + rowH / 2 - 2}
                width={x(end) - x(d[1])}
                height={full ? rowH : 4}
                fill={altColors[d[0]]}
              />
            );
          })
      )}
      {genes.map((g, i) => (
        <text key={g} x={pctX} y={(rows(g) as number) + rowH / 2 + 2.9} fontFamily={FONT} fontSize={8} fill={INK}>
          {pcts[i]}
          <tspan fontSize={5}>%</tspan>
          {g === 'TCF7L2' ? <tspan dy={-1}>*</tspan> : null}
        </text>
      ))}
    </g>
  );
}

function PanelA() {
  const rows = d3.scaleBand<string>().domain(genes).range([101, 374.4]).paddingInner(0.233).paddingOuter(0);
  const tracks = d3.scaleBand<string>().domain(annotationRows).range([36, 97]).paddingInner(0.235).paddingOuter(0);
  const poleX = d3.scaleLinear().domain([0, poleCount]).range([944.3, 992]);
  return (
    <g>
      <T x={18} y={14.5} size={15} weight="bold" fill="#111">a</T>
      <T x={47.3} y={16.5} size={7.6} weight="bold" fill="#111">Molecular Subtype</T>
      <T x={516} y={17} size={8.6} anchor="middle" weight="bold" fill="#111">Microsatellite Stable</T>
      <T x={968} y={17} size={8.6} anchor="middle" weight="bold" fill="#111">POLE/MSI</T>
      <rect x={126} y={20} width={777.7} height={2.7} fill="#14265f" />
      <rect x={poleX(0)} y={20} width={poleX(4) - poleX(0)} height={2.7} fill="#1a6fb5" />
      <rect x={poleX(4)} y={20} width={poleX(40) - poleX(4)} height={2.7} fill="#7fd0f7" />
      <T x={121.3} y={34.5} size={8} anchor="end" weight="bold" fill="#111">TMB</T>
      {annotationRows.map((r) => (
        <T key={r} x={121.3} y={(tracks(r) as number) + tracks.bandwidth() / 2 + 2.9} size={8} anchor="end" weight="bold" fill="#111">{r}</T>
      ))}
      {genes.map((g) => (
        <T key={g} x={120.7} y={(rows(g) as number) + rows.bandwidth() / 2 + 2.9} size={8} anchor="end" weight="bold" italic={g !== '20Q'} fill="#111">{g}</T>
      ))}
      <T x={33} y={181} size={7.8} anchor="middle" rotate={-90} fill="#444">Signalling Pathways</T>
      {pathwayGroups.map((p) => (
        <g key={p.name}>
          <T x={77.3} y={(p.from + p.to) / 2 + 2.8} size={7.8} anchor="end" fill="#444">{p.name}</T>
          <line x1={80.7} x2={80.7} y1={p.from} y2={p.to} stroke="#555" strokeWidth={1} />
        </g>
      ))}
      <Panel x0={126} x1={903.7} count={mssCount} annotations={annotationMSS} tmb={tmbMSS} tmbFill="#222" alts={altMSS} gaps={tcfGapsMSS} pcts={pctMSS} pctX={907.3} isMain />
      <Panel x0={944.3} x1={992} count={poleCount} annotations={annotationPOLE} tmb={tmbPOLE} tmbFill="#5a5a5a" alts={altPOLE} gaps={tcfGapsPOLE} pcts={pctPOLE} pctX={995.3} isMain={false} />
      <T x={122.8} y={385} size={7}>n=652</T>
      <T x={947} y={385} size={7}>n=40</T>
      <Legends />
    </g>
  );
}

function Legends() {
  const rows: any[] = [
    [170, 408.3, altColors.M, 'Missense', 176.5],
    [216.3, 408.3, altColors.T, 'Truncating', 223.6],
    [269, 408.3, altColors.I, 'Inframe InDel', 275],
    [330.7, 408.3, altColors.S, 'Splice', 336],
    [174.6, 430.7, altColors.A, 'Amplification', 180.5],
    [239.6, 430.7, altColors.D, 'Deep Deletion', 245.4],
    [404.4, 399.3, normalColors.B, 'Blood', 410.2],
    [436.4, 399.3, normalColors.T, 'Tissue', 442.2],
    [469.8, 399.3, normalColors.P, 'Pooled', 475.7],
    [543.5, 399.3, rectalColors.L, 'Lower (≤4cm)', 548.9],
    [602.2, 399.3, rectalColors.M, 'Middle (4-8cm)', 608],
    [666, 399.3, rectalColors.U, 'Upper (≥8cm)', 671.5],
    [726.3, 399.3, rectalColors.N, 'N/A', 732],
    [544.5, 427.3, '#14265f', 'MSS', 549.3],
    [573, 427.3, '#7fd0f7', 'MSI', 579],
    [598.3, 427.3, '#1a6fb5', 'POLE', 604.6],
    [654, 427.3, sexColors.F, 'Female', 659],
    [654, 436.7, sexColors.M, 'Male', 659],
    [709.8, 427.3, ageColors.Y, '<50', 715],
    [709.8, 435.7, ageColors.O, '≥50', 715],
    [787, 399.3, stageColors['1'], 'I', 792],
    [801.4, 399.3, stageColors['2'], 'II', 806.7],
    [818.9, 399.3, stageColors['3'], 'III', 824.2],
    [839.7, 399.3, stageColors['4'], 'IV', 845],
    [787, 427.3, groupColors.A, 'ACOSOG', 791.7],
    [843, 427.3, groupColors.C, 'Clinical-IMPACT', 848],
    [787, 437.3, groupColors.R, 'Research-IMPACT', 791.7],
    [859, 437.3, groupColors.I, 'Timing Trial', 864],
  ];
  const heads: [number, number, string][] = [
    [152.3, 391.5, 'Genomic alterations'],
    [396.2, 393, 'Matched Normal'],
    [396.2, 421, 'Tumor Mutational Burden'],
    [536.7, 393, 'Rectal Location (Distance from anal verge)'],
    [539.6, 421, 'Molecular Subtype'],
    [649.2, 421, 'Sex'],
    [695.7, 421, 'Age at Diagnosis'],
    [780, 393, 'PreCRT AJCC Classification (Stage)'],
    [780, 421, 'Group'],
  ];
  return (
    <g>
      {heads.map((h) => (
        <T key={h[2]} x={h[0]} y={h[1]} size={7.8} weight="bold" fill="#111">{h[2]}</T>
      ))}
      <T x={169.8} y={401} size={7.6} italic>Putative driver mutations</T>
      <T x={169.8} y={423.4} size={7.6} italic>Structural</T>
      {rows.map((r) => (
        <g key={r[3]}>
          <Swatch x={r[0]} y={r[1]} fill={r[2]} />
          <T x={r[4]} y={r[1] + 2.8} size={7.9}>{r[3]}</T>
        </g>
      ))}
      <T x={403} y={432} size={7.9}>0.98</T>
      <polygon points="421,432.5 435.4,432.5 435.4,426" fill="#666" />
      <T x={438.3} y={432} size={7.9}>415.63</T>
    </g>
  );
}

function PanelB() {
  const x = d3.scaleBand<string>().domain(pathwayNames).range([43.4, 212]).paddingInner(0.13).paddingOuter(0.03);
  const y = d3.scaleLinear().domain([0, 100]).range([682.3, 485]);
  return (
    <g>
      <T x={6} y={470} size={15} weight="bold" fill="#111">b</T>
      {pathwayNames.map((p, i) => (
        <g key={p}>
          <rect x={(x(p) as number) + 0.7} y={y(pathwayFreq[i]) + 0.3} width={x.bandwidth()} height={y(0) - y(pathwayFreq[i])} fill="#bdbdbd" />
          <rect x={x(p)} y={y(pathwayFreq[i])} width={x.bandwidth()} height={y(0) - y(pathwayFreq[i])} fill="#2c2b7c" stroke="#1c1c48" strokeWidth={0.6} />
          <line x1={(x(p) as number) + x.bandwidth() / 2} x2={(x(p) as number) + x.bandwidth() / 2} y1={682.3} y2={684.5} stroke="#222" strokeWidth={0.7} />
          <T x={(x(p) as number) + x.bandwidth() / 2 + 2} y={688} size={7.6} anchor="end" rotate={-50}>{p}</T>
        </g>
      ))}
      <line x1={41.7} x2={41.7} y1={485} y2={682.3} stroke="#222" strokeWidth={1} />
      <line x1={41.7} x2={209} y1={682.3} y2={682.3} stroke="#222" strokeWidth={1} />
      {pctTicks.map((t) => (
        <g key={t}>
          <line x1={38.5} x2={41.7} y1={y(t)} y2={y(t)} stroke="#222" strokeWidth={0.7} />
          <T x={36.7} y={y(t) + 2.6} size={7.4} anchor="end">{t}%</T>
        </g>
      ))}
      <T x={17} y={583} size={7.6} anchor="middle" rotate={-90}>Frequency of Pathway Alterations</T>
      <T x={127.7} y={728} size={7.6} anchor="middle">Signalling Pathways</T>
    </g>
  );
}

function PanelC() {
  const colX = d3.scaleBand<number>().domain(d3.range(13)).range([302.7, 489.3]);
  const rowY = d3.scaleBand<number>().domain(d3.range(13)).range([516, 702.6]);
  const color = d3.scaleLinear<string>().domain([-3, 0, 3]).range(['#54278f', '#ffffff', '#0a6b30']);
  const w = colX.bandwidth();
  const h = rowY.bandwidth();
  const grey = '#9a9a9a';
  const Cell = ({ c, r, fill, star, isGrey }: any) => (
    <g>
      <rect x={colX(c)} y={rowY(r)} width={w} height={h} fill={fill} stroke={isGrey ? '#8a8a8a' : '#dcdcdc'} strokeWidth={0.5} />
      {star ? (
        <T x={(colX(c) as number) + w / 2} y={(rowY(r) as number) + h / 2 + 2.6} size={7.4} anchor="middle" weight="bold" fill="#111">{star}</T>
      ) : null}
    </g>
  );
  const splitGene = (s: string) => {
    const m = s.match(/^(APC|[A-Z0-9]+)(.*)$/) as RegExpMatchArray;
    return [m[1], m[2]];
  };
  const gradStops = d3.range(-3, 3.01, 0.5);
  return (
    <g>
      <T x={204} y={469} size={15} weight="bold" fill="#111">c</T>
      {geneOR.map((row, r) => (
        <g key={r}>
          {row.map((v, c) => (
            <Cell key={c} c={c} r={r} fill={color(v)} star={(geneStars[r] || [])[c]} />
          ))}
          <Cell c={row.length} r={r} fill={grey} isGrey />
        </g>
      ))}
      {pathOR.map((row, r) => {
        const first = 12 - r;
        return (
          <g key={r}>
            <Cell c={first} r={r + 5} fill={grey} isGrey />
            {row.map((v, i) => (
              <Cell key={i} c={first + 1 + i} r={r + 5} fill={color(v)} star={(pathStars[r] || [])[i]} />
            ))}
          </g>
        );
      })}
      {geneRows.map((g, r) => {
        const [name, rest] = splitGene(g);
        const isAmp = g.startsWith('20q');
        return (
          <text key={g} x={300} y={(rowY(r) as number) + h / 2 + 2.7} fontSize={7.5} fontFamily={FONT} textAnchor="end" fill={INK}>
            {isAmp ? g : (<><tspan fontStyle="italic">{name}</tspan>{rest}</>)}
          </text>
        );
      })}
      {geneCols.map((g, c) => (
        <T key={g} x={(colX(c) as number) + w / 2 - 1} y={513.5} size={7.5} italic={g !== '20q Amp.'} rotate={-52}>{g}</T>
      ))}
      {pathRows.map((p, r) => (
        <T key={p} x={492} y={(rowY(r + 5) as number) + h / 2 + 2.7} size={7.5}>{p}</T>
      ))}
      {pathCols.map((p, c) => (
        <T key={p} x={(colX(c + 5) as number) + w / 2 + 2} y={706} size={7.5} anchor="end" rotate={-48}>{p}</T>
      ))}
      <line x1={504} y1={538.3} x2={330} y2={711.7} stroke="#999" strokeWidth={0.7} strokeDasharray="2 2" />
      <T x={221.7} y={609} size={8.4} anchor="middle" rotate={-90}>Genes</T>
      <T x={555.5} y={645} size={8.4} anchor="middle" rotate={90}>Pathways</T>
      <defs>
        <linearGradient id="orGrad" x1="0" x2="1" y1="0" y2="0">
          {gradStops.map((v) => (
            <stop key={v} offset={`${((v + 3) / 6) * 100}%`} stopColor={color(v)} />
          ))}
        </linearGradient>
      </defs>
      <rect x={325.7} y={746.7} width={47} height={7.3} fill="url(#orGrad)" />
      <text x={350} y={741} fontSize={7.5} fontFamily={FONT} textAnchor="middle" fill={INK}>
        Log<tspan fontSize={5} dy={1.5}>2</tspan><tspan dy={-1.5}>(OR)</tspan>
      </text>
      <T x={324} y={761} size={7.2} anchor="middle">-3</T>
      <T x={349} y={761} size={7.2} anchor="middle">0</T>
      <T x={372} y={761} size={7.2} anchor="middle">3</T>
      <T x={302} y={749.5} size={7.5} anchor="middle">Mutually</T>
      <T x={302} y={758.5} size={7.5} anchor="middle">Exclusive</T>
      <T x={391.5} y={749.5} size={7.5} anchor="middle">Co-</T>
      <T x={391.5} y={758.5} size={7.5} anchor="middle">Occuring</T>
      <T x={432} y={745.5} size={7.5}>FDR corrected p-value</T>
      <T x={432} y={754.5} size={7.5}>* q &lt; 0.1</T>
      <T x={432} y={763.5} size={7.5}>*** q &lt; 0.05</T>
    </g>
  );
}

function PanelD() {
  const x = d3.scaleBand<string>().domain(fgaGroups).range([604.8, 733.8]).paddingInner(0.26).paddingOuter(0.13);
  const y = d3.scaleLinear().domain([0, 1]).range([683.7, 516.3]);
  const step = x.step();
  const cx = (i: number) => (x(fgaGroups[0]) as number) + x.bandwidth() / 2 + i * step;
  return (
    <g>
      <T x={567.7} y={469} size={15} weight="bold" fill="#111">d</T>
      {fgaBrackets.map((b, i) => (
        <g key={i}>
          <path d={`M${cx(b[0])},${y(b[2]) + 2.4}V${y(b[2])}H${cx(b[1])}V${y(b[2]) + 2.4}`} fill="none" stroke="#555" strokeWidth={0.8} />
          <T x={(cx(b[0]) + cx(b[1])) / 2} y={y(b[2]) - 0.2} size={8} anchor="middle" fill="#111">*</T>
        </g>
      ))}
      {fgaGroups.map((g, i) => {
        const b = fgaBoxes[i];
        const x0 = x(g) as number;
        const mid = x0 + x.bandwidth() / 2;
        return (
          <g key={g}>
            <line x1={mid} x2={mid} y1={y(b.lo)} y2={y(b.hi)} stroke="#bbbbbb" strokeWidth={1} />
            <rect x={x0} y={y(b.q3)} width={x.bandwidth()} height={y(b.q1) - y(b.q3)} fill={fgaFill[i]} stroke="#8a8a8a" strokeWidth={0.7} />
            <line x1={x0} x2={x0 + x.bandwidth()} y1={y(b.med)} y2={y(b.med)} stroke="#555" strokeWidth={0.7} opacity={0.7} />
            {fgaPoints[i].map((p, k) => {
              const inside = p[1] >= b.q1 && p[1] <= b.q3;
              return (
                <circle
                  key={k}
                  cx={mid + p[0] * step}
                  cy={y(p[1])}
                  r={1.25}
                  fill={inside ? fgaFill[i] : fgaDot[i]}
                  stroke={inside ? '#333' : 'none'}
                  strokeWidth={0.45}
                />
              );
            })}
            <T x={mid + 2} y={696.5} size={7.6} anchor="end" italic={false} rotate={-45}>
              {g.startsWith('TP53') ? (<><tspan fontStyle="italic">TP53</tspan>{g.slice(4)}</>) : g}
            </T>
          </g>
        );
      })}
      <line x1={602.3} x2={602.3} y1={510} y2={691} stroke="#444" strokeWidth={0.9} />
      <line x1={602.3} x2={736} y1={691} y2={691} stroke="#444" strokeWidth={0.9} />
      {[0, 0.25, 0.5, 0.75, 1].map((t) => (
        <g key={t}>
          <line x1={600.3} x2={602.3} y1={y(t)} y2={y(t)} stroke="#444" strokeWidth={0.7} />
          <T x={598.5} y={y(t) + 2.7} size={7.6} anchor="end">{t.toFixed(2)}</T>
        </g>
      ))}
      <T x={577.5} y={600} size={7.6} anchor="middle" rotate={-90}>Fraction of Genome Altered</T>
    </g>
  );
}

function StackedBars({ series, colors, top, bottom, title, titleY, tickY, axisY }: any) {
  const x = d3.scaleLinear().domain([0, 100]).range([773.3, 975.7]);
  const y = d3.scaleBand<string>().domain(stages).range([top, bottom]).paddingInner(0.085).paddingOuter(0);
  const table = stages.map((s, i) => {
    const d: Record<string, number> = {};
    series.forEach((v: number[], k: number) => { d[String(k)] = v[i]; });
    return d;
  });
  const stacked = d3.stack<Record<string, number>>().keys(series.map((_: any, k: number) => String(k)))(table);
  return (
    <g>
      <T x={873} y={titleY} size={7.6} anchor="middle">{title}</T>
      {pctTicks.map((t) => (
        <g key={t}>
          <T x={x(t)} y={tickY} size={7.4} anchor="middle">{t}%</T>
          <line x1={x(t)} x2={x(t)} y1={axisY} y2={axisY + 1.6} stroke="#444" strokeWidth={0.6} />
        </g>
      ))}
      {stacked.map((layer, k) =>
        layer.map((d, i) => (
          <rect key={`${k}-${i}`} x={x(d[0])} y={y(stages[i])} width={x(d[1]) - x(d[0])} height={y.bandwidth()} fill={colors[k]} />
        ))
      )}
      {stages.map((s) => (
        <T key={s} x={765} y={(y(s) as number) + y.bandwidth() / 2 + 2.8} size={7.8} anchor="middle">{s}</T>
      ))}
      <T x={757} y={(top + bottom) / 2} size={7.8} anchor="middle" italic rotate={-90}>Stage</T>
    </g>
  );
}

function PanelE() {
  const smallBox = (x: number, y: number, w: number, h: number, stroke: string) => (
    <rect x={x} y={y} width={w} height={h} fill="none" stroke={stroke} strokeWidth={0.8} strokeDasharray="1.4 1.4" />
  );
  return (
    <g>
      <T x={731.7} y={469} size={15} weight="bold" fill="#111">e</T>
      <StackedBars
        series={[level1, level2, level3A, level3B, level4, levelOnco, levelNone]}
        colors={levelColors}
        top={480}
        bottom={541}
        title="Highest Level of Actionability"
        titleY={463}
        tickY={472}
        axisY={478}
      />
      <T x={980.7} y={481.5} size={7.6}>Level of</T>
      <T x={980.7} y={491} size={7.6}>Actionability</T>
      {levelNames.map((l, i) => (
        <g key={l}>
          <rect x={982.5} y={494.5 + i * 8} width={5.4} height={5.6} fill={levelColors[i]} />
          <T x={990.3} y={500 + i * 8} size={7.6}>{l}</T>
        </g>
      ))}
      <g stroke="#cccccc" strokeWidth={0.7}>
        <polyline points="774.7,541 784,576.7 784,578" fill="none" />
        <line x1={786.7} y1={541.7} x2={801.7} y2={560} />
        <line x1={793.3} y1={542.3} x2={855} y2={556} />
        <line x1={827.3} y1={542.3} x2={905} y2={553.3} />
      </g>
      {smallBox(751, 578.3, 47.7, 25, '#6fbf73')}
      <text x={753.3} y={586} fontSize={7.5} fontFamily={FONT} fill={INK}><tspan fontStyle="italic">BRAF</tspan> V600</text>
      <T x={775} y={593.7} size={7.5} anchor="middle" fill={DRUG}>Encorafenib</T>
      <T x={775} y={601} size={7.5} anchor="middle" fill={DRUG}>+Cetuximab</T>
      {smallBox(801.3, 553.3, 50.7, 59.4, '#9ecbe8')}
      <text x={803.7} y={561} fontSize={7.5} fontFamily={FONT} fill={INK}><tspan fontStyle="italic">ERBB2</tspan>  amp.</text>
      <T x={803.7} y={569.4} size={7.5} fill={DRUG}>Trastuzumab</T>
      <T x={803.7} y={576.7} size={7.5} fill={DRUG}>+Pertuzumab</T>
      <T x={803.7} y={586.4} size={7.5} fill={DRUG}>Lapatinib +</T>
      <T x={803.7} y={593.4} size={7.5} fill={DRUG}>Trastuzumab</T>
      <T x={803.7} y={603.4} size={7.5} fill={DRUG}>Trastuzuma</T>
      <T x={803.7} y={610.7} size={7.5} fill={DRUG}>Deruxtecan</T>
      {smallBox(854.7, 556, 47.3, 25, '#c9a0d6')}
      <text x={878} y={563.7} fontSize={7.5} fontFamily={FONT} textAnchor="middle" fill={INK}><tspan fontStyle="italic">KRAS</tspan> G12C</text>
      <T x={878} y={571.4} size={7.5} anchor="middle" fill={DRUG}>Encorafenib</T>
      <T x={878} y={579.4} size={7.5} anchor="middle" fill={DRUG}>+Cetuximab</T>
      {smallBox(905, 553.3, 137.3, 131.7, '#c9a0d6')}
      {tierLines.map((line, i) => (
        <text key={i} x={907} y={562 + i * 8} fontSize={7.5} fontFamily={FONT}>
          {line.map((seg, k) => (
            <tspan key={k} fontStyle={seg[1] === 'i' ? 'italic' : 'normal'} fill={seg[1] === 'd' ? DRUG : INK} xmlSpace="preserve">{seg[0]}</tspan>
          ))}
        </text>
      ))}
      <StackedBars
        series={[countGe3, count2, count1, count0]}
        colors={countColors}
        top={720}
        bottom={781.3}
        title="# of Actionable Alterations per Sample"
        titleY={701}
        tickY={713.3}
        axisY={718.4}
      />
      {countNames.map((c, i) => (
        <g key={c}>
          <rect x={982.7} y={736.5 + i * 7.9} width={5.6} height={5.4} fill={countColors[i]} />
          <T x={991} y={741.8 + i * 7.9} size={7.6}>{c}</T>
        </g>
      ))}
    </g>
  );
}

export default function App() {
  return (
    <svg width={1050} height={788} viewBox="0 0 1050 788" style={{ position: 'absolute', left: 0, top: 0, display: 'block', background: '#fff' }}>
      <PanelA />
      <PanelB />
      <PanelC />
      <PanelD />
      <PanelE />
    </svg>
  );
}
